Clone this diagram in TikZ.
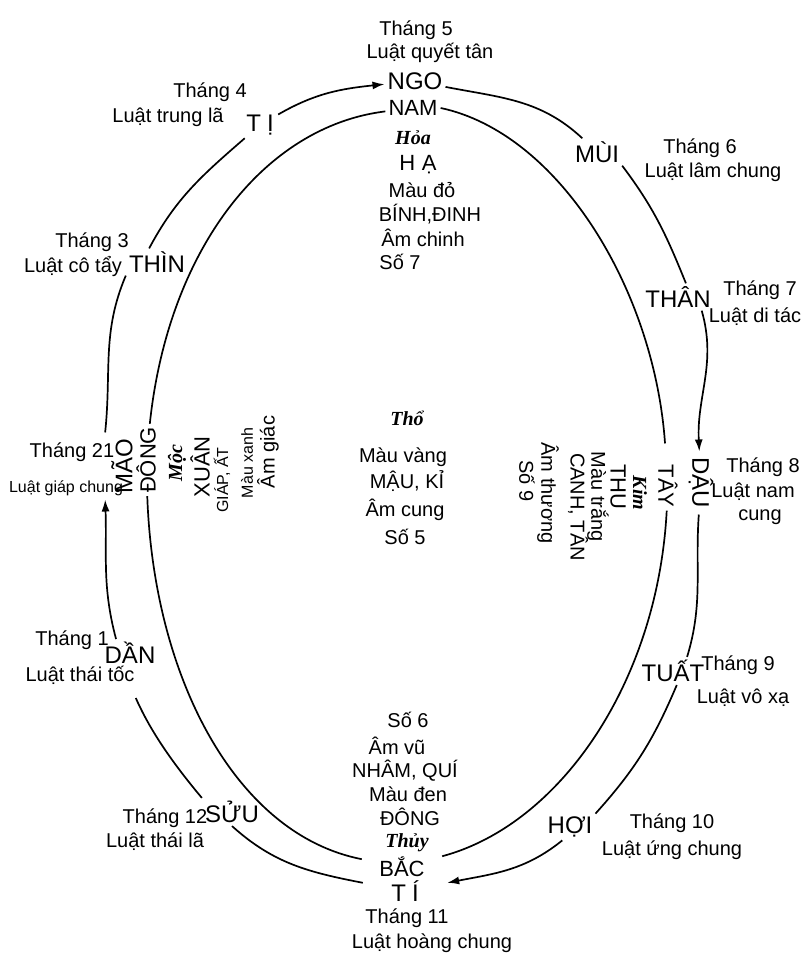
\documentclass[tikz,border=0pt]{standalone}
\usepackage{fontspec}
\setmainfont{Liberation Sans}
\newfontfamily\hanhfont{Liberation Serif}
\usepackage{graphicx}
\usetikzlibrary{arrows.meta}

\begin{document}
\begin{tikzpicture}[
    x=1pt, y=1pt,
    ring/.style={line width=1.7pt},
    arr/.style={ring, -{Latex[length=12pt, width=8pt]}},
    chi/.style={inner sep=3pt, font=\fontsize{24}{26}\selectfont},
    phuong/.style={inner sep=3pt, font=\fontsize{22}{24}\selectfont},
    lbl/.style={inner sep=1pt, font=\fontsize{20}{22}\selectfont},
    colsm/.style={inner sep=1pt, font=\fontsize{16}{18}\selectfont},
    hanh/.style={inner sep=1pt, font=\fontsize{20}{22}\selectfont\hanhfont\bfseries\itshape},
    gian/.style={font=\fontsize{24}{26}\selectfont\addfontfeature{LetterSpace=25}},
]
\useasboundingbox (0,0) rectangle (809,960);

% Vong ngoai: muoi hai chi
\node[chi] (ngo) at (415,879) {NGO};
\node[chi] (mui) at (597,808) {MÙI};
\node[chi] (than) at (678,663) {THÂN};
\node[chi, inner sep=6pt] (dau) at (701,477) {\rotatebox{-90}{DẬU}};
\node[chi] (tuat) at (673,289) {TUẤT};
\node[chi] (hoi) at (570,133) {HỢI};
\node[chi, gian, minimum width=84pt] (ti) at (405,69) {TÍ};
\node[chi] (suu) at (232,148) {SỬU};
\node[chi] (dan) at (130,307) {DẦN};
\node[chi, inner sep=6pt] (mao) at (122,494) {\rotatebox{90}{MÃO}};
\node[chi] (thin) at (157,698) {THÌN};
\node[chi, gian, minimum width=36pt] (tyi) at (260,835) {TỊ};

% Cung vong ngoai
\draw[ring] (ngo) to[out=-11, in=137] (mui);
\draw[ring] (mui.south east) to[out=-53, in=112] (than.60);
\draw[arr] (than.-30) to[out=-74, in=93] (dau);
\draw[ring] (dau) to[out=-94, in=73] (tuat.45);
\draw[ring] (tuat.-75) to[out=-113, in=48] (hoi.north east);
\draw[arr] (hoi.-120) to[out=-141, in=11] (ti);
\draw[ring] (ti) to[out=169, in=-42] (suu.south);
\draw[ring, shorten >=34pt] (suu.north west) to[out=130, in=-66] (dan.-120);
\draw[arr] (dan.135) to[out=105, in=-88] (mao.south west);
\draw[ring] (mao.north west) to[out=84, in=-113] (thin.south west);
\draw[ring] (thin.120) to[out=62, in=-139] (tyi);
\draw[arr] (tyi) to[out=30, in=-174] (ngo);

% Vong trong: bon phuong
\node[phuong] (nam) at (413,852) {NAM};
\node[phuong] (tay) at (668,474) {\rotatebox{-90}{TÂY}};
\node[phuong, minimum width=80pt] (bac) at (402,93) {BẮC};
\node[phuong] (dong) at (146,500) {\rotatebox{90}{ĐÔNG}};

\draw[ring, shorten >=18pt] (nam.east) to[out=-12, in=94, out distance=121pt, in distance=172pt] (tay);
\draw[ring] (tay) to[out=-93, in=15, out distance=172pt, in distance=122pt] (bac);
\draw[ring] (bac) to[out=169, in=-88, out distance=128pt, in distance=182pt] (dong);
\draw[ring] (dong) to[out=84, in=-173, out distance=174pt, in distance=123pt] (nam);

% Thang va luat
\node[lbl] (th5) at (416,930) {Tháng 5};
\node[lbl] (lu5) at (430,907) {Luật quyết tân};
\node[lbl] (th6) at (700,812) {Tháng 6};
\node[lbl] (lu6) at (713,788) {Luật lâm chung};
\node[lbl] (th7) at (760,670) {Tháng 7};
\node[lbl] (lu7) at (755,643) {Luật di tác};
\node[lbl] (th8) at (763,493) {Tháng 8};
\node[lbl] (lu8) at (753,468) {Luật nam};
\node[lbl] (cu8) at (760,443) {cung};
\node[lbl] (th9) at (738,295) {Tháng 9};
\node[lbl] (lu9) at (743,262) {Luật vô xạ};
\node[lbl] (th10) at (672,137) {Tháng 10};
\node[lbl] (lu10) at (672,110) {Luật ứng chung};
\node[lbl] (th11) at (407,42) {Tháng 11};
\node[lbl] (lu11) at (432,17) {Luật hoàng chung};
\node[lbl] (th12) at (165,142) {Tháng 12};
\node[lbl] (lu12) at (155,118) {Luật thái lã};
\node[lbl] (th1) at (72,320) {Tháng 1};
\node[lbl] (lu1) at (80,285) {Luật thái tốc};
\node[lbl] (th2) at (72,508) {Tháng 21};
\node[colsm] (lu2) at (66,472) {Luật giáp chung};
\node[lbl] (th3) at (92,718) {Tháng 3};
\node[lbl] (lu3) at (73,693) {Luật cô tẩy};
\node[lbl] (th4) at (210,868) {Tháng 4};
\node[lbl] (lu4) at (168,843) {Luật trung lã};

% Phuong Nam
\node[hanh] (hoa) at (413,822) {Hỏa};
\node[phuong, font=\fontsize{22}{24}\selectfont\addfontfeature{LetterSpace=30}] (ha) at (418,795) {HẠ};
\node[lbl] (mdo) at (422,770) {Màu đỏ};
\node[lbl] (binh) at (430,746) {BÍNH,ĐINH};
\node[lbl] (amch) at (423,722) {Âm chinh};
\node[lbl] (so7) at (400,698) {Số 7};

% Trung uong
\node[hanh] (tho) at (407,542) {Thổ};
\node[lbl] (mvang) at (403,503) {Màu vàng};
\node[lbl] (mauki) at (407,479) {MẬU, KỈ};
\node[lbl] (amcung) at (405,450) {Âm cung};
\node[lbl] (so5) at (405,423) {Số 5};

% Phuong Bac
\node[lbl] (so6) at (408,240) {Số 6};
\node[lbl] (amvu) at (397,214) {Âm vũ};
\node[lbl] (nhamqui) at (405,189) {NHÂM, QUÍ};
\node[lbl] (mden) at (408,166) {Màu đen};
\node[lbl] (dongb) at (410,143) {ĐÔNG};
\node[hanh] (thuy) at (407,117) {Thủy};

% Phuong Tay
\node[hanh] (kim) at (640,467) {\rotatebox{-90}{Kim}};
\node[phuong] (thu) at (618,473) {\rotatebox{-90}{THU}};
\node[lbl] (mtrang) at (598,463) {\rotatebox{-90}{Màu trắng}};
\node[lbl] (canh) at (578,453) {\rotatebox{-90}{CANH, TÂN}};
\node[lbl] (amthuong) at (548,467) {\rotatebox{-90}{Âm thương}};
\node[lbl] (so9) at (527,479) {\rotatebox{-90}{Số 9}};

% Phuong Dong
\node[hanh] (moc) at (177,497) {\rotatebox{90}{Mộc}};
\node[phuong] (xuan) at (200,493) {\rotatebox{90}{XUÂN}};
\node[colsm] (giapat) at (222,480) {\rotatebox{90}{GIÁP, ẤT}};
\node[colsm] (mxanh) at (247,497) {\rotatebox{90}{Màu xanh}};
\node[lbl] (amgiac) at (268,508) {\rotatebox{90}{Âm giác}};

\end{tikzpicture}
\end{document}
